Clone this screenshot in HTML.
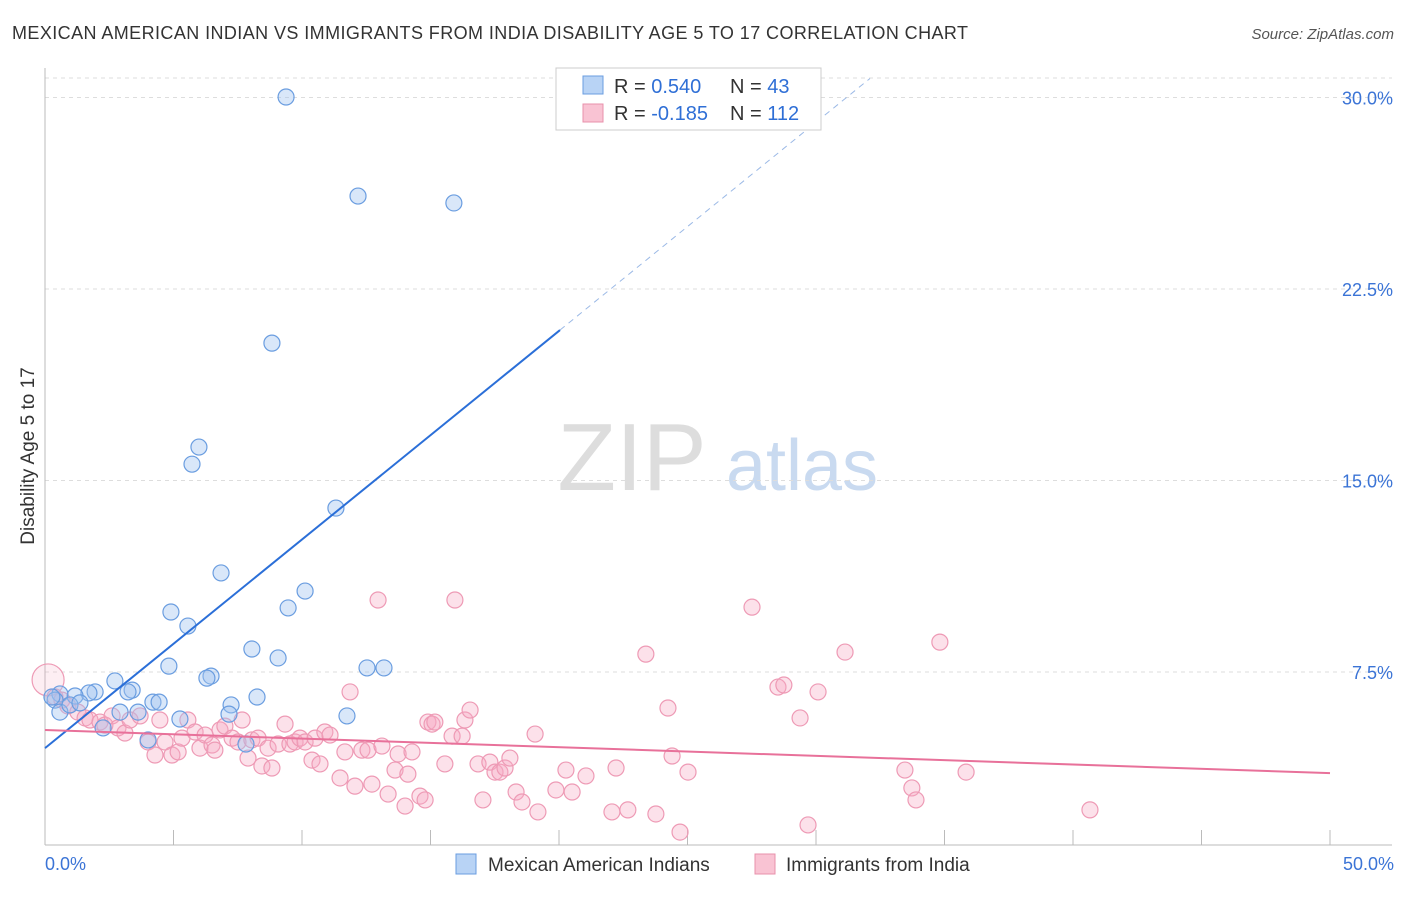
<!DOCTYPE html>
<html><head><meta charset="utf-8"><style>
body{margin:0;background:#fff;font-family:"Liberation Sans",sans-serif}
svg text{font-family:"Liberation Sans",sans-serif}
</style></head><body>
<svg width="1406" height="892" viewBox="0 0 1406 892" xmlns="http://www.w3.org/2000/svg">
<text x="12" y="39" font-size="18" fill="#333" textLength="956" lengthAdjust="spacing">MEXICAN AMERICAN INDIAN VS IMMIGRANTS FROM INDIA DISABILITY AGE 5 TO 17 CORRELATION CHART</text>
<text x="1394" y="39" font-size="15" fill="#555" text-anchor="end" font-style="italic">Source: ZipAtlas.com</text>
<g>
<text x="632" y="490" font-size="96" fill="#ddd" text-anchor="middle" font-family="Liberation Serif,serif">ZIP</text>
<text x="802" y="490" font-size="72" fill="#c9daf0" text-anchor="middle">atlas</text>
</g>
<g id="grid"></g>
<g id="axes"></g>
<g id="marks"></g>
<text transform="translate(34,456) rotate(-90)" font-size="19" fill="#333" text-anchor="middle">Disability Age 5 to 17</text>
<g>
<rect x="556" y="68" width="265" height="62" fill="#fff" stroke="#ccc"/>
<rect x="583" y="76" width="20" height="18" fill="#b8d3f5" stroke="#6a9de0"/>
<rect x="583" y="104" width="20" height="18" fill="#f9c3d3" stroke="#e890ab"/>
<text x="614" y="93" font-size="20" fill="#333">R = <tspan fill="#2f6fd6">0.540</tspan></text>
<text x="730" y="93" font-size="20" fill="#333">N = <tspan fill="#2f6fd6"> 43</tspan></text>
<text x="614" y="120" font-size="20" fill="#333">R = <tspan fill="#2f6fd6">-0.185</tspan></text>
<text x="730" y="120" font-size="20" fill="#333">N = <tspan fill="#2f6fd6">112</tspan></text>
</g>
<g>
<rect x="456" y="854" width="20" height="20" fill="#b8d3f5" stroke="#6a9de0"/>
<text x="488" y="871" font-size="19" fill="#333">Mexican American Indians</text>
<rect x="755" y="854" width="20" height="20" fill="#f9c3d3" stroke="#e890ab"/>
<text x="786" y="871" font-size="19" fill="#333">Immigrants from India</text>
</g>
</svg>
<script>
const yTicks=[7.5,15,22.5,30];
const yTickLabels=["7.5%","15.0%","22.5%","30.0%"];
const xTicks=[0,5,10,15,20,25,30,35,40,45,50];
const blueX=[9.38,12.18,15.91,8.83,5.99,5.72,11.32,6.85,10.12,4.90,9.46,5.56,4.82,6.46,6.30,8.05,9.07,12.53,13.19,7.24,8.25,7.16,11.75,5.25,4.20,4.44,3.39,3.23,2.72,1.95,1.71,1.17,0.58,0.39,0.27,0.58,0.97,1.36,2.26,4.01,7.82,2.92,3.62];
const blueY=[30.02,26.14,25.87,20.38,16.31,15.64,13.92,11.38,10.67,9.85,10.01,9.30,7.73,7.34,7.26,8.40,8.05,7.66,7.66,6.21,6.52,5.85,5.78,5.66,6.32,6.32,6.79,6.72,7.15,6.72,6.68,6.56,6.64,6.40,6.52,5.93,6.21,6.29,5.31,4.84,4.68,5.93,5.93];
const pinkX=[0.12,0.39,0.66,0.89,1.28,1.56,1.75,2.14,2.33,2.61,2.84,3.11,3.31,3.70,4.01,4.28,4.47,4.67,4.94,5.18,5.33,5.56,5.84,6.03,6.23,6.50,6.61,6.81,7.00,7.28,7.51,7.67,7.90,8.05,8.29,8.44,8.68,8.83,9.07,9.34,9.53,9.73,9.92,10.12,10.39,10.51,10.70,10.89,11.09,11.48,11.67,11.87,12.06,12.33,12.57,12.72,12.96,13.11,13.35,13.62,13.74,14.01,14.12,14.28,14.59,14.79,14.90,15.06,15.17,15.56,15.84,15.95,16.23,16.34,16.54,16.85,17.04,17.31,17.51,17.70,17.90,18.09,18.33,18.56,19.07,19.18,19.88,20.27,20.51,21.05,22.06,22.22,22.68,23.38,23.77,24.24,24.40,24.71,25.02,27.51,28.52,28.75,29.38,29.69,30.08,31.13,33.46,33.73,33.89,34.82,35.84,40.66];
const pinkY=[7.19,6.52,6.40,6.17,5.93,5.70,5.62,5.54,5.42,5.78,5.31,5.11,5.62,5.78,4.76,4.25,5.62,4.76,4.25,4.37,4.91,5.62,5.15,4.52,5.03,4.64,4.44,5.23,5.38,4.91,4.76,5.62,4.13,4.84,4.91,3.82,4.52,3.74,4.68,5.46,4.68,4.76,4.91,4.76,4.05,4.91,3.90,5.15,5.03,3.35,4.37,6.72,3.03,4.44,4.44,3.11,10.32,4.60,2.72,3.66,4.29,2.25,3.50,4.37,2.64,2.49,5.54,5.46,5.54,3.90,4.99,10.32,4.99,5.62,6.01,3.90,2.49,3.97,3.58,3.58,3.74,4.13,2.80,2.41,5.07,2.02,2.88,3.66,2.80,3.43,2.02,3.74,2.10,8.20,1.94,6.09,4.21,1.23,3.58,10.04,6.91,6.99,5.70,1.51,6.72,8.28,3.66,2.96,2.49,8.67,3.58,2.10];
const blueTrend=[4.52,0.817]; // intercept, slope
const blueTrendSolidEnd=[20.04];
const blueTrendDashEnd=[32.1];
const pinkTrend=[5.23,-0.0338];

const NS="http://www.w3.org/2000/svg";
const sx=v=>45+v*25.7;
const sy=v=>863.5-v*25.533;
function mk(tag,attrs,parent){const e=document.createElementNS(NS,tag);for(const k in attrs)e.setAttribute(k,attrs[k]);document.getElementById(parent).appendChild(e);return e;}
let g=mk('line',{x1:45,x2:1392,y1:78,y2:78,stroke:'#ddd','stroke-dasharray':'4,4'},'grid');


yTicks.forEach((t,i)=>{
 const l=mk('line',{x1:45,x2:1392,y1:sy(t),y2:sy(t),stroke:'#ddd','stroke-dasharray':'4,4'},'grid');
 
 
 const tx=mk('text',{x:1393,y:sy(t)+7,'font-size':18,fill:'#3b74d6','text-anchor':'end'},'grid');
 tx.textContent=yTickLabels[i];
 
 
});
let a=mk('line',{x1:45,x2:1392,y1:845,y2:845,stroke:'#bbb'},'axes');


a=mk('line',{x1:45,x2:45,y1:68,y2:845,stroke:'#bbb'},'axes');


xTicks.forEach(t=>{
 const l=mk('line',{x1:sx(t),x2:sx(t),y1:830,y2:845,stroke:'#bbb'},'axes');
 
 
});
let t0=mk('text',{x:45,y:870,'font-size':18,fill:'#3b74d6'},'axes');t0.textContent='0.0%';


let t1=mk('text',{x:1394,y:870,'font-size':18,fill:'#3b74d6','text-anchor':'end'},'axes');t1.textContent='50.0%';


pinkX.forEach((x,i)=>{
 const c=mk('circle',{cx:sx(x),cy:sy(pinkY[i]),r:i===0?16:8,fill:i===0?'rgba(246,170,195,0.2)':'rgba(246,170,195,0.35)',stroke:'#ee9ab5','stroke-width':1.2},'marks');
 
 
});
blueX.forEach((x,i)=>{
 const c=mk('circle',{cx:sx(x),cy:sy(blueY[i]),r:8,fill:'rgba(160,195,240,0.4)',stroke:'#6a9de0','stroke-width':1.2},'marks');
 
 
});
const bl=x=>blueTrend[0]+blueTrend[1]*x;
let ln=mk('line',{x1:sx(0),y1:sy(bl(0)),x2:sx(blueTrendSolidEnd[0]),y2:sy(bl(blueTrendSolidEnd[0])),stroke:'#2b6fd8','stroke-width':2},'marks');


ln=mk('line',{x1:sx(blueTrendSolidEnd[0]),y1:sy(bl(blueTrendSolidEnd[0])),x2:sx(blueTrendDashEnd[0]),y2:sy(bl(blueTrendDashEnd[0])),stroke:'#9bb9e6','stroke-width':1,'stroke-dasharray':'6,5'},'marks');


const pl=x=>pinkTrend[0]+pinkTrend[1]*x;
ln=mk('line',{x1:sx(0),y1:sy(pl(0)),x2:sx(50),y2:sy(pl(50)),stroke:'#e8719a','stroke-width':2},'marks');


</script>
</body></html>
